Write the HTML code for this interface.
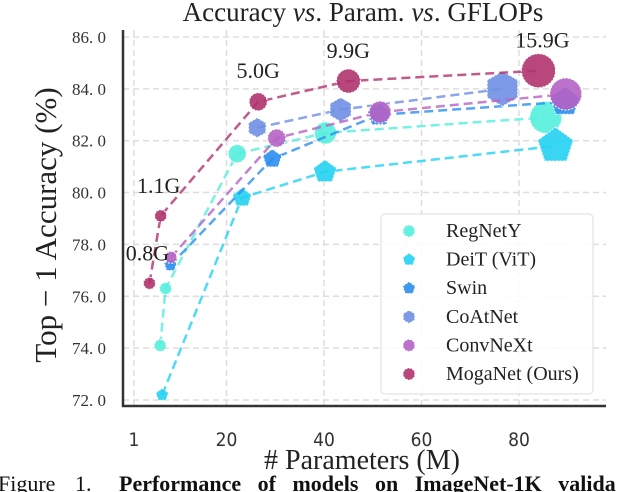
<!DOCTYPE html>
<html><head><meta charset="utf-8"><style>
body{margin:0;background:#fff;width:638px;height:492px;overflow:hidden}
svg{display:block}
</style></head><body>
<svg id="chart" width="638" height="492" xmlns="http://www.w3.org/2000/svg"></svg>
<script>
const xTicks=[1,20,40,60,80];
const yTicks=[72,74,76,78,80,82,84,86];
const seriesNames=["RegNetY","DeiT (ViT)","Swin","CoAtNet","ConvNeXt","MogaNet (Ours)"];
const regX=[6.4,7.5,22.2,40.3,85.5], regY=[74.1,76.3,81.5,82.3,82.9], regR=[6,6,9,11,16];
const deitX=[6.8,23.2,40.2,87.5], deitY=[72.2,79.8,80.8,81.8], deitR=[6,9,11,17];
const swinX=[8.5,29.4,51.3,89.4], swinY=[77.2,81.3,83.0,83.5], swinR=[6,9,11,14];
const coatX=[26.3,43.4,76.6], coatY=[82.5,83.2,84.0], coatR=[9,11,16];
const convX=[8.6,30.3,51.5,89.6], convY=[77.5,82.1,83.1,83.8], convR=[6,9,11,16];
const mogaX=[4.2,6.5,26.5,45,84], mogaY=[76.5,79.1,83.5,84.3,84.7], mogaR=[6,6,9,12,17];
const flopLabels=["0.8G","1.1G","5.0G","9.9G","15.9G"];
const colors=["#55eedd","#22d2f2","#2b8ef0","#6f8fe3","#b563c4","#b0336e"];
const shapes=["circle","pent","pent","hex","circle","circle"];
const NS="http://www.w3.org/2000/svg";
const svg=document.getElementById('chart');
const L=123,R=606,T=30,B=406;
const sx=v=>129+v*4.875;
const sy=v=>400-(v-72)*25.93;
function el(t,a,p){const e=document.createElementNS(NS,t);for(const k in a)e.setAttribute(k,a[k]);(p||svg).appendChild(e);return e;}
function txt(s,a){const e=el('text',a);e.textContent=s;return e;}
const ti=txt('',{x:363,y:21,'text-anchor':'middle','font-family':'Liberation Serif, serif','font-size':27,fill:'#222'});

ti.innerHTML='Accuracy <tspan font-style="italic">vs</tspan>. Param. <tspan font-style="italic">vs</tspan>. GFLOPs';
yTicks.forEach(v=>{const g=el('line',{x1:L,x2:R,y1:sy(v),y2:sy(v),stroke:'#ddd','stroke-dasharray':'6,4','stroke-width':1.5});

const t=txt(v.toFixed(1).replace('.','. '),{x:106,y:sy(v)+6,'text-anchor':'end','font-family':'Liberation Serif, serif','font-size':17,fill:'#333'});
});
xTicks.forEach(v=>{const g=el('line',{x1:sx(v),x2:sx(v),y1:T,y2:B,stroke:'#ddd','stroke-dasharray':'6,4','stroke-width':1.5});

const t=txt(String(v),{x:sx(v),y:446,'text-anchor':'middle','font-family':'DejaVu Sans Condensed, DejaVu Sans, sans-serif','font-size':19,fill:'#333'});
});
const ax=el('path',{d:`M${L},${T}V${B}H${R}`,fill:'none',stroke:'#333','stroke-width':2.5});

const yl=txt('Top − 1 Accuracy (%)',{x:0,y:0,transform:'translate(56,225) rotate(-90)','text-anchor':'middle','font-family':'Liberation Serif, serif','font-size':31,fill:'#222'});

const xl=txt('# Parameters (M)',{x:362,y:469,'text-anchor':'middle','font-family':'Liberation Serif, serif','font-size':28,fill:'#222'});

const cap=el('text',{y:491,'font-family':'Liberation Serif, serif','font-size':22,fill:'#111'});

cap.innerHTML='<tspan x="-2" word-spacing="14">Figure 1.</tspan><tspan x="119" font-weight="bold" word-spacing="11">Performance of models on ImageNet-1K valida</tspan>';
function poly(n,r,cx,cy,rot){let p=[];for(let i=0;i<n;i++){const a=rot+i*2*Math.PI/n;p.push((cx+r*Math.cos(a)).toFixed(1)+','+(cy+r*Math.sin(a)).toFixed(1));}return p.join(' ');}
function marker(shape,cx,cy,r,c,parent){let m;
if(shape==='circle')m=el('circle',{cx,cy,r},parent);
else if(shape==='pent')m=el('polygon',{points:poly(5,r*1.1,cx,cy,-Math.PI/2)},parent);
else m=el('polygon',{points:poly(6,r*1.1,cx,cy,-Math.PI/2)},parent);
m.setAttribute('fill',c);m.setAttribute('fill-opacity',0.9);m.setAttribute('stroke','#fff');m.setAttribute('stroke-width',1);m.setAttribute('stroke-dasharray','2,1.5');return m;}
const all=[[regX,regY,regR],[deitX,deitY,deitR],[swinX,swinY,swinR],[coatX,coatY,coatR],[convX,convY,convR],[mogaX,mogaY,mogaR]];
all.forEach(([X,Y,Rr],si)=>{const g=el('g',{});

const ln=el('polyline',{points:X.map((x,i)=>sx(x)+','+sy(Y[i])).join(' '),fill:'none',stroke:colors[si],'stroke-width':2.5,'stroke-dasharray':'9,5','stroke-opacity':0.8},g);

X.forEach((x,i)=>{const m=marker(shapes[si],sx(x),sy(Y[i]),Rr[i],colors[si],g);
});});
const lblPos=[[-2,-23],[-2,-23],[0,-24],[0,-23],[4,-23]];
flopLabels.forEach((s,i)=>{const t=txt(s,{x:sx(mogaX[i])+lblPos[i][0],y:sy(mogaY[i])+lblPos[i][1],'text-anchor':'middle','font-family':'Liberation Serif, serif','font-size':22,fill:'#222'});
});
const lg=el('g',{});
el('rect',{x:381,y:214,width:212,height:180,rx:4,fill:'#fff','fill-opacity':0.85,stroke:'#ddd'},lg);
seriesNames.forEach((n,i)=>{const y=231+i*28.6;const m=marker(shapes[i],409,y,6,colors[i],lg);

const t=txt(n,{x:446,y:y+6,'font-family':'Liberation Serif, serif','font-size':20,fill:'#222'});
});
</script>
</body></html>
